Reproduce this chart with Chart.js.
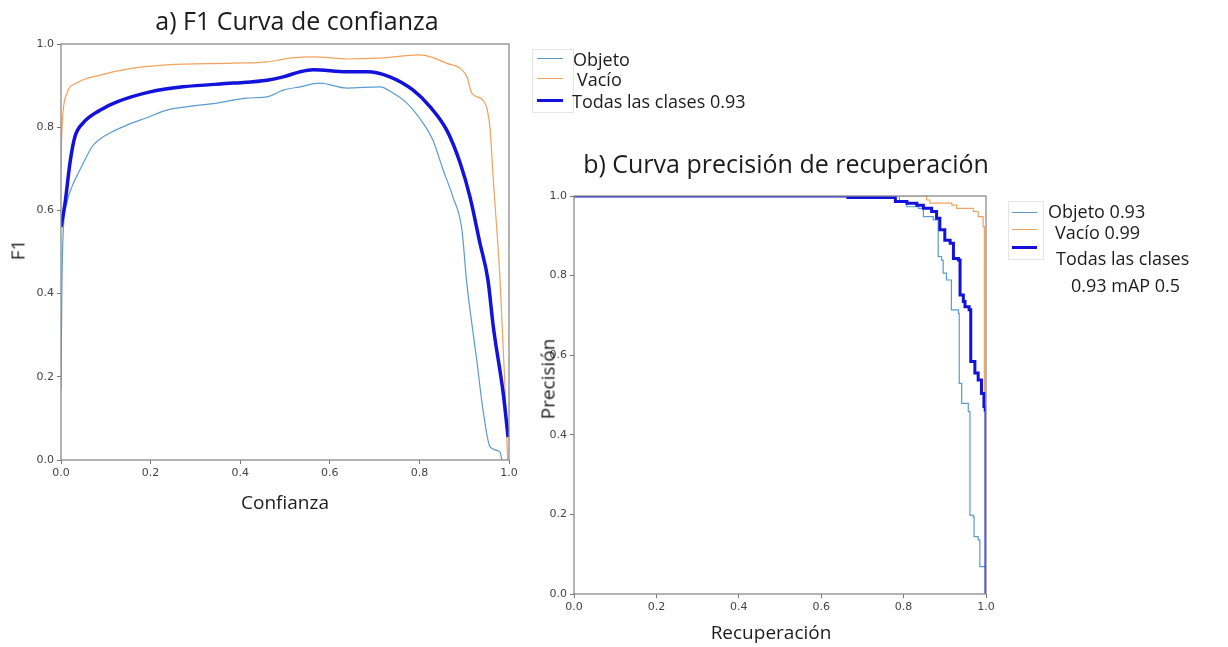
<!DOCTYPE html>
<html>
<head>
<meta charset="utf-8">
<script src="https://cdn.jsdelivr.net/npm/chart.js@4/dist/chart.umd.min.js"></script>
<style>
  html, body { margin: 0; padding: 0; background: #fff; }
  #page { position: relative; width: 1228px; height: 647px; overflow: hidden; font-family: "Open Sans", sans-serif; color: #1c1c1c; }
  canvas { position: absolute; left: 0; top: 0; }
  .t { position: absolute; white-space: nowrap; line-height: 1; }
  .c { transform: translate(-50%, -50%); }
  .v { transform: translate(-50%, -50%) rotate(-90deg); }
  .l { transform: translateY(-50%); font-size: 18px; }
  .box { position: absolute; border: 1px solid #e6e6e6; }
  .h { position: absolute; height: 0; }
</style>
</head>
<body>
<div id="page">
  <canvas id="f1" width="1228" height="647"></canvas>
  <canvas id="pr" width="1228" height="647"></canvas>

  <div class="t c" style="left:297px;top:20px;font-size:25px">a) F1 Curva de confianza</div>
  <div class="t c" style="left:786px;top:163px;font-size:25px">b) Curva precisión de recuperación</div>

  <div class="t c" style="left:285px;top:502px;font-size:19px">Confianza</div>
  <div class="t v" style="left:18px;top:250px;font-size:19px">F1</div>
  <div class="t c" style="left:771px;top:632px;font-size:19px">Recuperación</div>
  <div class="t v" style="left:548px;top:379px;font-size:19px">Precisión</div>

  <!-- leyenda a) -->
  <div class="box" style="left:532px;top:49px;width:40px;height:62px"></div>
  <div class="h" style="left:537px;top:58px;width:26px;border-top:1px solid #5b9bd0"></div>
  <div class="h" style="left:537px;top:78px;width:26px;border-top:1px solid #f2a25c"></div>
  <div class="h" style="left:537px;top:99px;width:26px;border-top:3px solid #1212dc"></div>
  <div class="t l" style="left:573px;top:59px">Objeto</div>
  <div class="t l" style="left:577px;top:79px">Vacío</div>
  <div class="t l" style="left:572px;top:101px">Todas las clases 0.93</div>

  <!-- leyenda b) -->
  <div class="box" style="left:1008px;top:201px;width:34px;height:57px"></div>
  <div class="h" style="left:1012px;top:212px;width:25px;border-top:1px solid #5b9bd0"></div>
  <div class="h" style="left:1012px;top:229px;width:25px;border-top:1px solid #f2a25c"></div>
  <div class="h" style="left:1012px;top:246px;width:25px;border-top:3px solid #1212dc"></div>
  <div class="t l" style="left:1048px;top:211px">Objeto 0.93</div>
  <div class="t l" style="left:1055px;top:232px">Vacío 0.99</div>
  <div class="t l" style="left:1056px;top:258px">Todas las clases</div>
  <div class="t l" style="left:1071px;top:285px">0.93 mAP 0.5</div>
</div>

<script>
// --- datos ---
const tickLabels = ["0.0", "0.2", "0.4", "0.6", "0.8", "1.0"];

// a) F1 vs confianza
const f1ObjX = [0, 0.002, 0.005, 0.013, 0.024, 0.042, 0.057, 0.069, 0.085, 0.109, 0.147, 0.19, 0.236, 0.28, 0.348, 0.415, 0.46, 0.496, 0.533, 0.578, 0.638, 0.712, 0.741, 0.772, 0.808, 0.83, 0.853, 0.875, 0.895, 0.905, 0.913, 0.928, 0.942, 0.958, 0.98, 0.984];
const f1ObjY = [0.17, 0.42, 0.55, 0.618, 0.656, 0.697, 0.729, 0.753, 0.77, 0.786, 0.805, 0.822, 0.841, 0.849, 0.858, 0.870, 0.873, 0.889, 0.897, 0.906, 0.894, 0.897, 0.882, 0.858, 0.810, 0.769, 0.697, 0.632, 0.553, 0.433, 0.361, 0.240, 0.120, 0.031, 0.019, 0];

const f1VacX = [0, 0.001, 0.004, 0.013, 0.035, 0.087, 0.161, 0.236, 0.384, 0.46, 0.511, 0.563, 0.64, 0.712, 0.80, 0.86, 0.906, 0.917, 0.942, 0.953, 0.958, 0.965, 0.98, 0.99, 0.997];
const f1VacY = [0.70, 0.76, 0.83, 0.881, 0.906, 0.925, 0.942, 0.950, 0.954, 0.957, 0.966, 0.969, 0.964, 0.966, 0.974, 0.954, 0.921, 0.882, 0.865, 0.834, 0.793, 0.673, 0.433, 0.2, 0];

const f1AllX = [0, 0.009, 0.02, 0.031, 0.049, 0.087, 0.125, 0.199, 0.272, 0.384, 0.46, 0.496, 0.533, 0.563, 0.638, 0.683, 0.734, 0.786, 0.824, 0.861, 0.891, 0.913, 0.935, 0.953, 0.965, 0.987, 0.998];
const f1AllY = [0.56, 0.617, 0.714, 0.777, 0.810, 0.841, 0.861, 0.885, 0.897, 0.906, 0.913, 0.921, 0.933, 0.938, 0.933, 0.933, 0.921, 0.889, 0.849, 0.793, 0.714, 0.632, 0.522, 0.433, 0.320, 0.161, 0.055];

// b) precisión vs recuperación (puntos de caída, escalonado)
const prObjX = [0, 0.79, 0.808, 0.836, 0.848, 0.872, 0.884, 0.892, 0.896, 0.904, 0.916, 0.933, 0.935, 0.941, 0.957, 0.961, 0.969, 0.971, 0.981, 0.985, 1.0];
const prObjY = [1, 0.985, 0.973, 0.969, 0.948, 0.94, 0.848, 0.839, 0.806, 0.789, 0.714, 0.705, 0.529, 0.479, 0.458, 0.198, 0.194, 0.144, 0.136, 0.069, 0];

const prVacX = [0, 0.856, 0.864, 0.917, 0.929, 0.969, 0.981, 0.993, 0.996, 1.0];
const prVacY = [1, 0.99, 0.982, 0.977, 0.969, 0.961, 0.948, 0.923, 0.5, 0];

const prAllX = [0, 0.665, 0.78, 0.808, 0.832, 0.848, 0.868, 0.88, 0.888, 0.9, 0.913, 0.921, 0.933, 0.937, 0.945, 0.949, 0.959, 0.963, 0.973, 0.981, 0.989, 0.995, 0.998, 1.0];
const prAllY = [1, 0.996, 0.986, 0.982, 0.977, 0.969, 0.961, 0.944, 0.915, 0.889, 0.881, 0.843, 0.839, 0.751, 0.735, 0.722, 0.714, 0.584, 0.555, 0.538, 0.504, 0.471, 0.462, 0];

const colObj = "#5b9bd0";
const colVac = "#f2a25c";
const colAll = "#1212dc";

const pts = (xs, ys) => xs.map((x, i) => ({ x, y: ys[i] }));

// marco completo del área de trazado
const frame = {
  id: "frame",
  afterDatasetsDraw(chart) {
    const a = chart.chartArea, ctx = chart.ctx;
    ctx.save();
    ctx.strokeStyle = "#8a8a8a";
    ctx.lineWidth = 1.3;
    ctx.strokeRect(a.left, a.top, a.right - a.left, a.bottom - a.top);
    ctx.restore();
  }
};

function axis(isY, size) {
  return {
    type: "linear", min: 0, max: 1,
    border: { display: false },
    grid: { display: true, drawOnChartArea: false, drawTicks: true, tickLength: 4, color: "#777" },
    ticks: {
      stepSize: 0.2, autoSkip: false, padding: 3, color: "#444", maxRotation: 0,
      font: { family: "DejaVu Sans", size: 11 },
      callback: (v, i) => tickLabels[i]
    },
    afterFit: s => { if (isY) s.width = size; else s.height = size; }
  };
}

function makeChart(id, sets, padding, yWidth) {
  return new Chart(document.getElementById(id), {
    type: "scatter",
    data: { datasets: sets },
    options: {
      responsive: false,
      animation: false,
      layout: { padding },
      plugins: { legend: { display: false }, tooltip: { enabled: false } },
      elements: { point: { radius: 0 } },
      scales: { x: axis(false, 30), y: axis(true, yWidth) }
    },
    plugins: [frame]
  });
}

const smooth = { showLine: true, cubicInterpolationMode: "monotone" };

makeChart("f1", [
  { ...smooth, data: pts(f1AllX, f1AllY), borderColor: colAll, borderWidth: 3.5, order: 0 },
  { ...smooth, data: pts(f1VacX, f1VacY), borderColor: colVac, borderWidth: 1.2, order: 1 },
  { ...smooth, data: pts(f1ObjX, f1ObjY), borderColor: colObj, borderWidth: 1.2, order: 2 }
], { left: 0, top: 44, right: 719, bottom: 157 }, 61);

makeChart("pr", [
  { data: pts(prAllX, prAllY), showLine: true, stepped: true, borderColor: colAll, borderWidth: 3, order: 0, clip: 0 },
  { data: pts(prVacX, prVacY), showLine: true, stepped: true, borderColor: colVac, borderWidth: 1.2, order: 1 },
  { data: pts(prObjX, prObjY), showLine: true, stepped: true, borderColor: colObj, borderWidth: 1.2, order: 2 }
], { left: 524, top: 196, right: 242, bottom: 23 }, 50);
</script>
</body>
</html>
